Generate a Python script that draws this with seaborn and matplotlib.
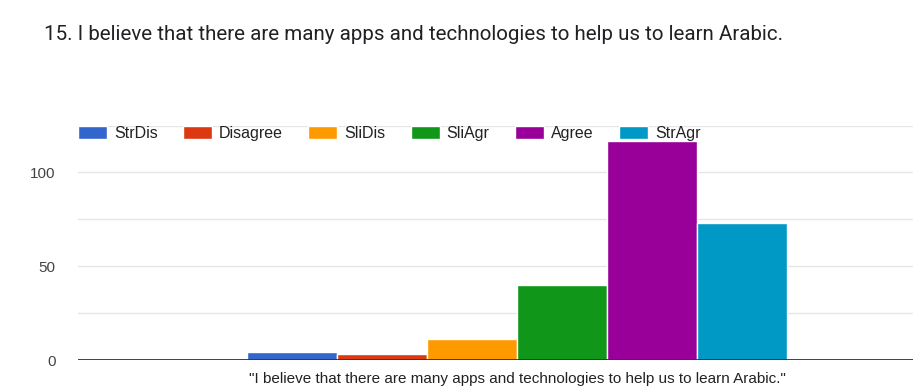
import numpy as np
import pandas as pd
import seaborn as sns
from matplotlib import pyplot as plt
from matplotlib.ticker import MultipleLocator

# Data
question = '"I believe that there are many apps and technologies to help us to learn Arabic."'
responses = ["StrDis", "Disagree", "SliDis", "SliAgr", "Agree", "StrAgr"]
counts = [4, 3, 11, 40, 117, 73]
colors = ["#3366cc", "#dc3912", "#ff9900", "#109618", "#990099", "#0099c6"]
title = "15. I believe that there are many apps and technologies to help us to learn Arabic."

df = pd.DataFrame({"question": [question] * len(responses),
                   "response": responses,
                   "count": counts})

sns.set_theme(style="white")
plt.rcParams["font.family"] = ["Liberation Sans", "DejaVu Sans"]

W, H = 913, 391
fig = plt.figure(figsize=(W / 100, H / 100), dpi=100)
# axes runs past the right edge, as in the cropped screenshot
ax = fig.add_axes([78 / W, 31 / H, (956 - 78) / W, (360 - 125.6) / H])

sns.barplot(data=df, x="question", y="count", hue="response",
            hue_order=responses, palette=colors, saturation=1,
            width=0.615, edgecolor="white", linewidth=1, ax=ax, zorder=2)

ax.set_ylim(0, 125)
ax.set_xlim(-0.5, 0.5)
ax.yaxis.set_major_locator(MultipleLocator(50))
ax.yaxis.set_minor_locator(MultipleLocator(25))
ax.grid(axis="y", which="both", color="#e6e6e6", linewidth=1, zorder=0)
ax.set_axisbelow(True)
ax.axhline(0, color="#333333", linewidth=1.3, zorder=3)
sns.despine(ax=ax, left=True, bottom=True, right=True, top=True)
ax.tick_params(axis="both", which="both", length=0)
ax.tick_params(axis="y", pad=16, labelsize=11, labelcolor="#444444")
ax.tick_params(axis="x", pad=9, labelsize=11, labelcolor="#222222")
ax.set_xlabel("")
ax.set_ylabel("")

sns.move_legend(ax, loc="upper left", bbox_to_anchor=(78 / W, 1 - 126 / H),
                bbox_transform=fig.transFigure, ncol=6, frameon=False,
                title=None, fontsize=11.5, handlelength=1.8, handleheight=0.87,
                handletextpad=0.44, columnspacing=1.6, borderpad=0,
                borderaxespad=0)
for t in ax.get_legend().get_texts():
    t.set_color("#222222")

fig.text(44 / W, 1 - 35 / H, title, va="center", ha="left", fontsize=14.8,
         family=["Roboto", "DejaVu Sans"], color="#202124")

fig.savefig("out.png", dpi=100)
